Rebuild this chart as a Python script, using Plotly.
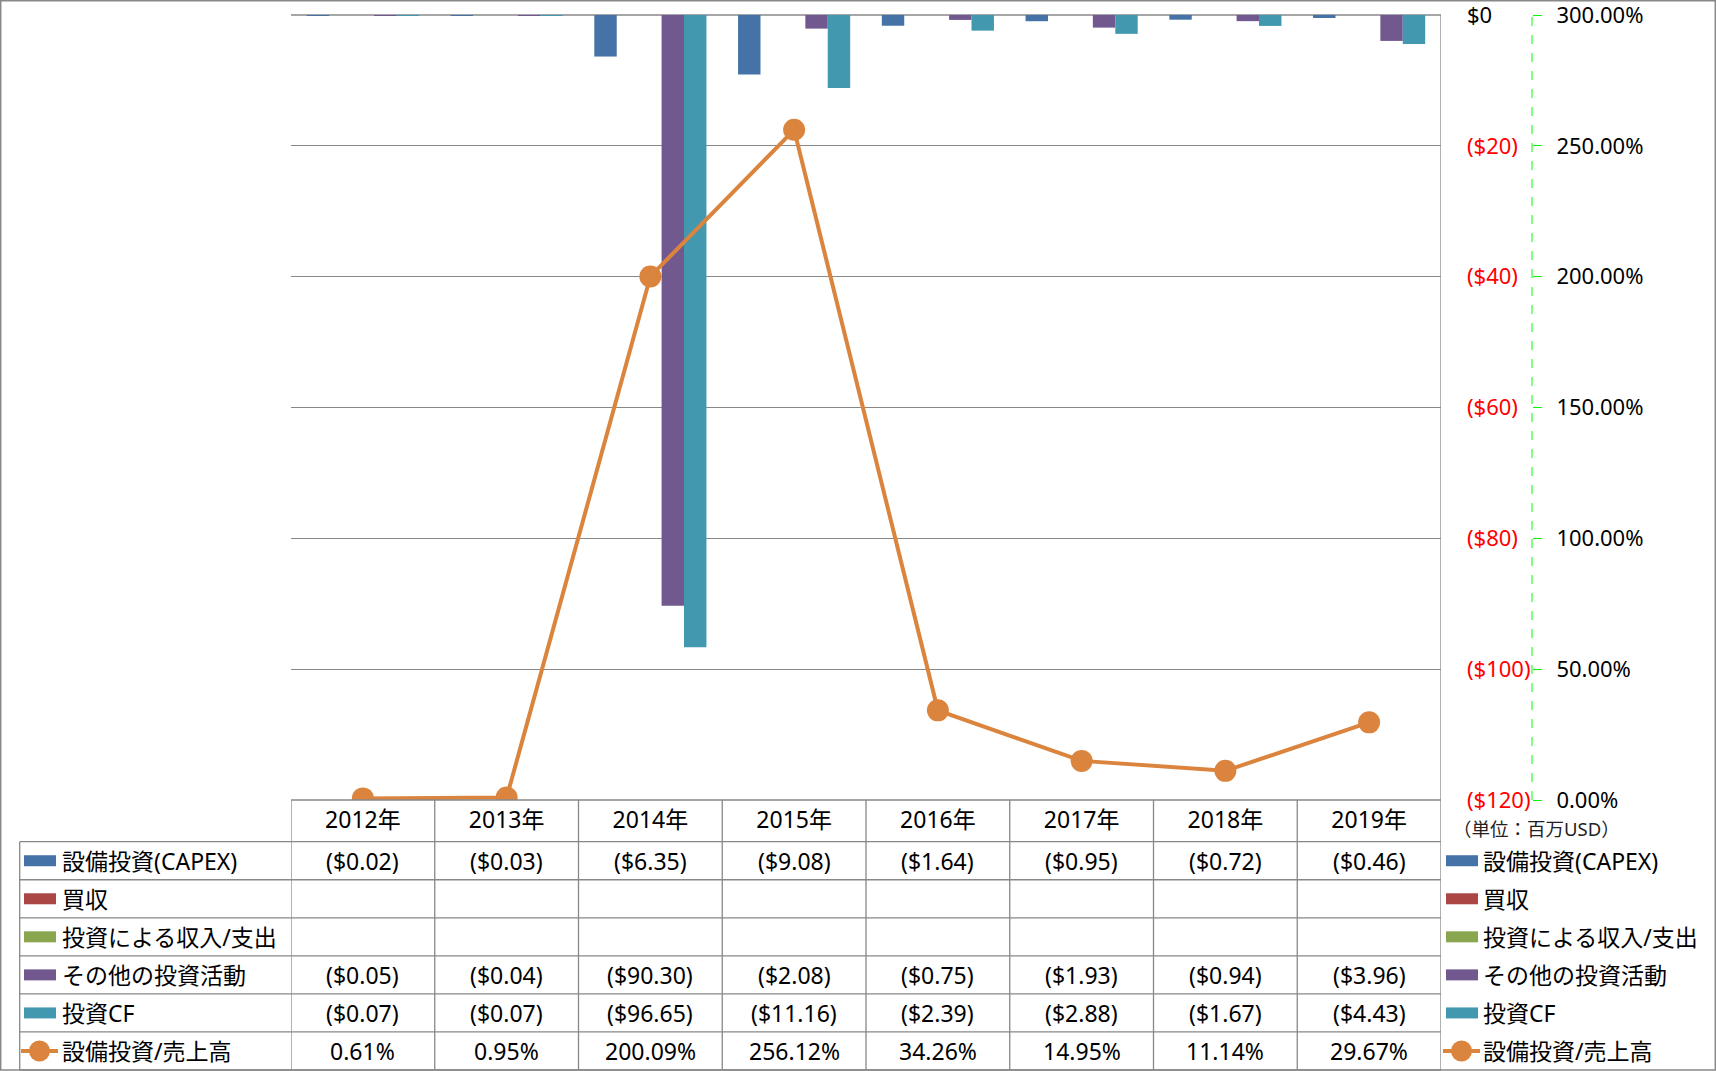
import plotly.graph_objects as go

# ---------------- data ----------------
years = ["2012年", "2013年", "2014年", "2015年", "2016年", "2017年", "2018年", "2019年"]
capex = [-0.02, -0.03, -6.35, -9.08, -1.64, -0.95, -0.72, -0.46]
acquisition = [None, None, None, None, None, None, None, None]
invest_income = [None, None, None, None, None, None, None, None]
other_invest = [-0.05, -0.04, -90.30, -2.08, -0.75, -1.93, -0.94, -3.96]
invest_cf = [-0.07, -0.07, -96.65, -11.16, -2.39, -2.88, -1.67, -4.43]
capex_to_sales = [0.61, 0.95, 200.09, 256.12, 34.26, 14.95, 11.14, 29.67]

bar_names = ["設備投資(CAPEX)", "買収", "投資による収入/支出", "その他の投資活動", "投資CF"]
line_name = "設備投資/売上高"
usd_ticks = [0, -20, -40, -60, -80, -100, -120]
pct_ticks = [0, 50, 100, 150, 200, 250, 300]
unit_label = "（単位：百万USD）"

# ---------------- style ----------------
bar_colors = ["#4572A7", "#AA4643", "#89A54E", "#71588F", "#4198AF"]
line_color = "#DB843D"
grid_color = "#888888"
FONT = "Noto Sans, Noto Sans CJK JP, sans-serif"
FS = 23      # table / legend text
AFS = 22     # axis tick labels

W, H = 1716, 1071
def px(x):
    return x / W
def py(y):
    return 1 - y / H

PL, PR, PT, PB = 291, 1441, 15, 800
ROW_TOP, ROW_H = 841.7, 38.05
TBL_L = 19.7
TBL_B = ROW_TOP + 6 * ROW_H


def fmt_usd_cell(v):
    if v is None:
        return ""
    if v < 0:
        return "(${:.2f})".format(abs(v))
    return "${:.2f}".format(v)


def fmt_usd_tick(v):
    if v < 0:
        return "<span style='color:#FF0000'>(${:.0f})</span>".format(abs(v))
    return "${:.0f}".format(v)


def fmt_pct(v):
    return "{:.2f}%".format(v)


series_values = [capex, acquisition, invest_income, other_invest, invest_cf]

fig = go.Figure()
for name, vals, col in zip(bar_names, series_values, bar_colors):
    fig.add_trace(go.Bar(x=years, y=vals, name=name, marker=dict(color=col, line=dict(width=0)),
                         yaxis="y", showlegend=False))
fig.add_trace(go.Scatter(x=years, y=capex_to_sales, name=line_name, yaxis="y2",
                         mode="lines+markers", line=dict(color=line_color, width=4),
                         marker=dict(color=line_color, size=22), showlegend=False))

shapes = []
annotations = []
line_style = dict(color=grid_color, width=1.3)

# outer border
shapes.append(dict(type="rect", xref="paper", yref="paper", x0=px(0.7), x1=px(W - 0.7),
                   y0=py(TBL_B), y1=py(0.7), line=dict(color=grid_color, width=1.5)))
# top line of plot area
shapes.append(dict(type="line", xref="paper", yref="paper", x0=px(PL), x1=px(PR),
                   y0=py(PT), y1=py(PT), line=line_style, layer="below"))
# dashed secondary axis line
shapes.append(dict(type="line", xref="paper", yref="paper", x0=px(1532), x1=px(1532),
                   y0=py(PB), y1=py(PT), line=dict(color="#00FF00", width=1, dash="dash")))
# header top line (x axis line)
shapes.append(dict(type="line", xref="paper", yref="paper", x0=px(PL), x1=px(PR),
                   y0=py(PB), y1=py(PB), line=line_style))
# table row lines
for i in range(7):
    yy = ROW_TOP + i * ROW_H
    shapes.append(dict(type="line", xref="paper", yref="paper", x0=px(TBL_L), x1=px(PR),
                       y0=py(yy), y1=py(yy), line=line_style))
# table left border
shapes.append(dict(type="line", xref="paper", yref="paper", x0=px(TBL_L), x1=px(TBL_L),
                   y0=py(ROW_TOP), y1=py(TBL_B), line=line_style))
# category boundaries
for k in range(len(years) + 1):
    top = PT if k == len(years) else PB
    shapes.append(dict(type="line", xref="x", yref="paper", x0=k - 0.5, x1=k - 0.5,
                       y0=py(TBL_B), y1=py(top), line=line_style))

# table cells
all_rows = series_values + [capex_to_sales]
for r, vals in enumerate(all_rows):
    yc = py(ROW_TOP + (r + 0.5) * ROW_H)
    for i, v in enumerate(vals):
        if v is None:
            continue
        txt = fmt_pct(v) if r == 5 else fmt_usd_cell(v)
        annotations.append(dict(xref="x", yref="paper", x=i, y=yc, text=txt, showarrow=False,
                                font=dict(size=FS, color="#000000"), xanchor="center", yanchor="middle"))

# legends (table left column and right side)
all_names = bar_names + [line_name]
for (sw_l, sw_r, tx) in [(24, 56, 60), (1446, 1478, 1481)]:
    for r, nm in enumerate(all_names):
        yc_px = ROW_TOP + (r + 0.5) * ROW_H
        if r < 5:
            shapes.append(dict(type="rect", xref="paper", yref="paper", x0=px(sw_l), x1=px(sw_r),
                               y0=py(yc_px + 5.5), y1=py(yc_px - 5.5),
                               fillcolor=bar_colors[r], line=dict(width=0)))
        else:
            lx0, lx1 = sw_l - 3, sw_r + 2
            shapes.append(dict(type="line", xref="paper", yref="paper", x0=px(lx0), x1=px(lx1),
                               y0=py(yc_px), y1=py(yc_px), line=dict(color=line_color, width=4)))
            cx = (lx0 + lx1) / 2
            rr = 10.5
            shapes.append(dict(type="circle", xref="paper", yref="paper", x0=px(cx - rr), x1=px(cx + rr),
                               y0=py(yc_px + rr), y1=py(yc_px - rr), fillcolor=line_color,
                               line=dict(color=line_color, width=0)))
        annotations.append(dict(xref="paper", yref="paper", x=px(tx), y=py(yc_px), text=nm,
                                showarrow=False, xanchor="left", yanchor="middle",
                                font=dict(size=FS, color="#000000")))

annotations.append(dict(xref="paper", yref="paper", x=px(1536), y=py(828), text=unit_label,
                        showarrow=False, xanchor="center", yanchor="middle",
                        font=dict(size=18.5, color="#222222")))

fig.update_layout(
    width=W, height=H,
    margin=dict(l=0, r=0, t=0, b=0, pad=0, autoexpand=False),
    paper_bgcolor="white", plot_bgcolor="white",
    font=dict(family=FONT, size=FS, color="#000000"),
    barmode="group", bargap=0.22, bargroupgap=0,
    showlegend=False,
    xaxis=dict(domain=[px(PL), px(PR)], type="category", range=[-0.5, len(years) - 0.5],
               showgrid=False, zeroline=False, showline=False, ticks="", automargin=False,
               tickfont=dict(size=FS), ticklabelstandoff=4),
    yaxis=dict(domain=[py(PB), py(PT)], range=[-120, 0], side="right", anchor="free",
               position=px(1466), tickvals=usd_ticks, ticktext=[fmt_usd_tick(v) for v in usd_ticks],
               showgrid=True, gridcolor=grid_color, gridwidth=1.3, zeroline=False, ticks="",
               showline=False, tickfont=dict(size=AFS), ticklabeloverflow="allow", automargin=False),
    yaxis2=dict(domain=[py(PB), py(PT)], range=[0, 300], overlaying="y", side="right", anchor="free",
                position=px(1532), tickvals=pct_ticks, ticktext=[fmt_pct(v) for v in pct_ticks],
                showgrid=False, zeroline=False, ticks="outside", ticklen=9, tickcolor="#00FF00",
                tickwidth=1, showline=False, ticklabelstandoff=10, tickfont=dict(size=AFS),
                ticklabeloverflow="allow", automargin=False),
    shapes=shapes,
    annotations=annotations,
)

fig.write_html("out.html", config={"displayModeBar": False},
               post_script="document.documentElement.style.margin='0';document.body.style.margin='0';")
